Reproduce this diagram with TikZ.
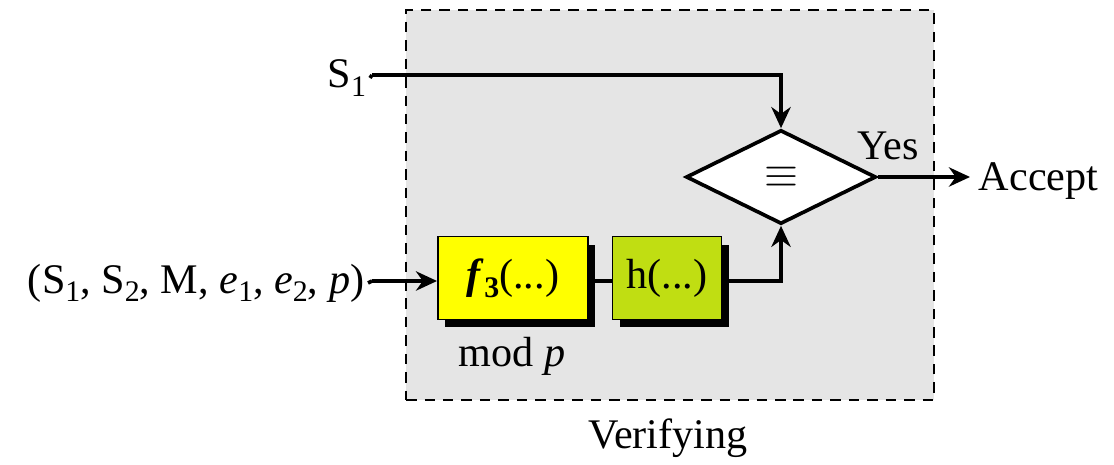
\documentclass[tikz,border=0pt]{standalone}
\usepackage{fontspec}
\setmainfont{Liberation Serif}
\usetikzlibrary{shapes.geometric,shadows,arrows.meta}
\definecolor{panelgray}{RGB}{229,229,229}
\definecolor{fyellow}{RGB}{255,255,0}
\definecolor{hgreen}{RGB}{192,222,18}
\newcommand{\lowsub}[1]{\raisebox{-0.45ex}{\fontsize{17}{17}\selectfont #1}}
\begin{document}
\begin{tikzpicture}[x=0.02cm,y=-0.02cm,
  every node/.style={font=\fontsize{24}{28}\selectfont},
  conn/.style={line width=2.1pt},
  arr/.style={conn,-{Stealth[length=12pt,width=11pt]}},
  procbox/.style={draw=black,line width=1.1pt,minimum width=3cm,minimum height=1.66cm,
    drop shadow={shadow xshift=0.14cm,shadow yshift=-0.16cm,fill=black,opacity=1}},
  testshape/.style={diamond,draw=black,fill=white,line width=2.1pt,inner sep=0pt,
    minimum width=3.8cm,minimum height=1.88cm,aspect=2}]
\useasboundingbox (0,0) rectangle (1114,465);
\node[draw=black,line width=1.4pt,fill=panelgray,minimum width=10.56cm,minimum height=7.8cm,
  dash pattern=on 6pt off 4.5pt] (panel) at (670,205) {};
\node (verif) at (668,438) {Verifying};
\node[anchor=east,inner sep=2pt] (s1) at (370,78) {S\lowsub{1}};
\node[anchor=east,inner sep=2pt] (inp) at (368,283) {(S\lowsub{1}, S\lowsub{2}, M, \textit{e}\lowsub{1}, \textit{e}\lowsub{2}, \textit{p})};
\node[procbox,fill=fyellow] (f) at (513,278) {\textbf{\textit{f}\lowsub{3}}(...)};
\node[procbox,fill=hgreen,minimum width=2.18cm] (h) at (667,278) {h(...)};
\node (mod) at (512,356) {mod \textit{p}};
\node[testshape] (d) at (781,177) {$\equiv$};
\node (yes) at (888,146) {Yes};
\node[anchor=west,inner sep=2pt] (acc) at (975,181) {Accept};
\coordinate (s1o) at (372,75);
\coordinate (ino) at (372,281);
\coordinate (acco) at (970,177);
\draw[conn] (s1.east) -- (s1o);
\draw[arr] (s1o) -| (d.north);
\draw[conn] (inp.east) -- (ino);
\draw[arr] (ino) -- (ino -| f.west);
\draw[conn] (f.east |- ino) -- (h.west |- ino);
\draw[arr] (h.east |- ino) -| (d.south);
\draw[arr] (d.east) -- (acco);
\end{tikzpicture}
\end{document}
